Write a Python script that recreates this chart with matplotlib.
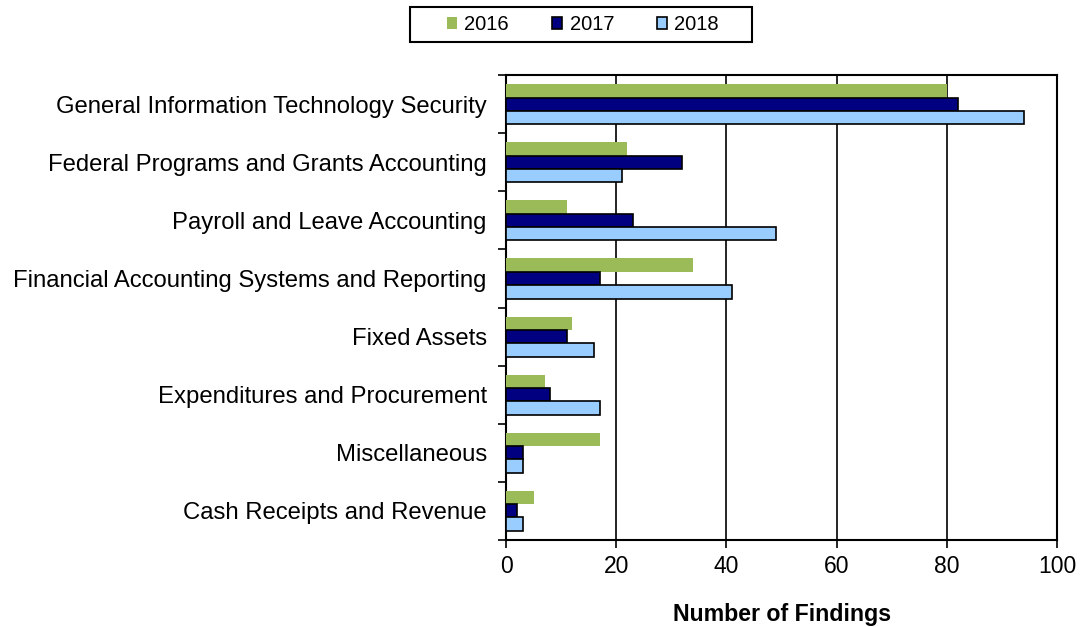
import numpy as np
import matplotlib
matplotlib.use("Agg")
import matplotlib.pyplot as plt
from matplotlib.patches import Rectangle
from matplotlib.ticker import MultipleLocator

plt.rcParams["font.family"] = ["Liberation Sans", "DejaVu Sans"]

# categories, top to bottom
categories = [
    "General Information Technology Security",
    "Federal Programs and Grants Accounting",
    "Payroll and Leave Accounting",
    "Financial Accounting Systems and Reporting",
    "Fixed Assets",
    "Expenditures and Procurement",
    "Miscellaneous",
    "Cash Receipts and Revenue",
]
findings_2016 = [80, 22, 11, 34, 12, 7, 17, 5]
findings_2017 = [82, 32, 23, 17, 11, 8, 3, 2]
findings_2018 = [94, 21, 49, 41, 16, 17, 3, 3]
years = ["2016", "2017", "2018"]

fig = plt.figure(figsize=(10.84, 6.27), dpi=100)
ax = fig.add_axes([0.467, 0.139, 0.508, 0.741])

n = len(categories)
y = np.arange(n)
h = 0.23

ax.barh(y - h, findings_2016, height=h, color="#9BBB59", edgecolor="none",
        label=years[0], zorder=3)
ax.barh(y, findings_2017, height=h, color="#000080", edgecolor="black",
        linewidth=1.2, label=years[1], zorder=3)
ax.barh(y + h, findings_2018, height=h, color="#99CCFF", edgecolor="black",
        linewidth=1.2, label=years[2], zorder=3)

ax.set_ylim(n - 0.5, -0.5)
ax.set_xlim(0, 100)
ax.xaxis.set_major_locator(MultipleLocator(20))
ax.xaxis.grid(True, color="black", linewidth=1.2, zorder=0)

# category labels centred, tick marks at boundaries
ax.set_yticks(y)
ax.set_yticklabels(categories, fontsize=17.2)
ax.set_yticks(np.arange(n + 1) - 0.5, minor=True)
ax.tick_params(axis="y", which="major", length=0, pad=14)
ax.tick_params(axis="y", which="minor", length=6, width=1.2, direction="out")
ax.tick_params(axis="x", length=6, width=1.2, direction="out", labelsize=16.5, pad=5)

for s in ax.spines.values():
    s.set_linewidth(1.5)
    s.set_color("black")

ax.set_xlabel("Number of Findings", fontsize=16.7, fontweight="bold", labelpad=18)

# legend without its own frame, box drawn around it
leg = fig.legend(loc="center", bbox_to_anchor=(0.538, 0.961), ncol=3,
                 fontsize=14.5, frameon=False,
                 handlelength=0.5, handleheight=0.5, handletextpad=0.35,
                 columnspacing=2.15, borderpad=0, borderaxespad=0)
fig.patches.append(Rectangle((0.378, 0.933), 0.3155, 0.0558, transform=fig.transFigure,
                             facecolor="none", edgecolor="black", linewidth=1.5))

fig.savefig("out.png", dpi=100)
